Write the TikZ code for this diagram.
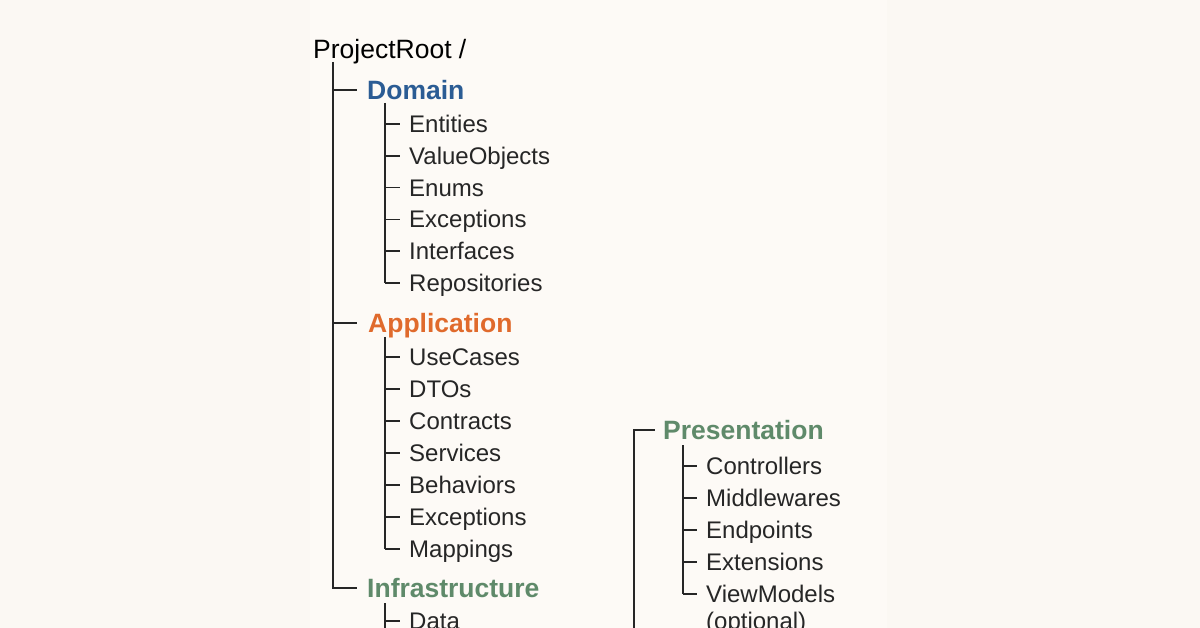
\documentclass[tikz,border=0pt]{standalone}
\usepackage{fontspec}
\setmainfont{Liberation Sans}
\definecolor{paper}{HTML}{FBF8F3}
\definecolor{panel}{HTML}{FDFAF6}
\definecolor{domainblue}{HTML}{2B5C94}
\definecolor{apporange}{HTML}{E06A2C}
\definecolor{infragreen}{HTML}{5F8A6A}
\tikzset{
  item/.style={anchor=west,inner sep=0pt,text height=20pt,text depth=3pt,font=\fontsize{24}{24}\selectfont,text=black!85},
  layer/.style={anchor=west,inner sep=0pt,text height=22pt,text depth=3pt,font=\fontsize{26.5}{26}\selectfont\bfseries},
  branch/.style={draw=black!85,line width=1.6pt}
}
\begin{document}
\begin{tikzpicture}[x=1pt,y=-1pt]
            \fill[paper] (0,0) rectangle (1200,628);
            \fill[panel] (310,0) rectangle (887,628);
            \useasboundingbox (0,0) rectangle (1200,628);

            \draw (313,49) node (root) [layer,font=\fontsize{26.5}{26}\selectfont] {ProjectRoot /};
            \draw (367,90) node (dom) [layer,text=domainblue] {Domain};
            \draw (368,323) node (app) [layer,text=apporange] {Application};
            \draw (367,588) node (inf) [layer,text=infragreen] {Infrastructure};
            \draw (663,430) node (pres) [layer,text=infragreen] {Presentation};

            % main trunk
            \coordinate (trunk) at (333,62);
            \draw [branch] (trunk) |- ([xshift=-10pt]inf.west);
            \draw [branch] (333,90) -- ([xshift=-10pt]dom.west);
            \draw [branch] (333,323) -- ([xshift=-11pt]app.west);
            \draw [branch] (634,640) |- ([xshift=-8pt]pres.west);

            % domain
            \foreach \t [count=\i] in {Entities,ValueObjects,Enums,Exceptions,Interfaces,Repositories} {
              \draw (409,124+31.8*\i-31.8) node (d\i) [item] {\t};
              \draw [branch] (385,124+31.8*\i-31.8) -- ([xshift=-9pt]d\i.west);
            }
            \draw [branch] (385,103) -- (385,283);

            % application
            \foreach \t [count=\i] in {UseCases,DTOs,Contracts,Services,Behaviors,Exceptions,Mappings} {
              \draw (409,357+32*\i-32) node (a\i) [item] {\t};
              \draw [branch] (385,357+32*\i-32) -- ([xshift=-9pt]a\i.west);
            }
            \draw [branch] (385,337) -- (385,549);

            % infrastructure
            \draw (409,621) node (i1) [item] {Data};
            \draw [branch] (385,603) -- (385,640);
            \draw [branch] (385,621) -- ([xshift=-9pt]i1.west);

            % presentation
            \foreach \t [count=\i] in {Controllers,Middlewares,Endpoints,Extensions,ViewModels} {
              \draw (706,466+32*\i-32) node (p\i) [item] {\t};
              \draw [branch] (683,466+32*\i-32) -- ([xshift=-9pt]p\i.west);
            }
            \draw [branch] (683,445) -- (683,594);
            \draw (706,621) node (opt) [item] {(optional)};
\end{tikzpicture}
\end{document}
